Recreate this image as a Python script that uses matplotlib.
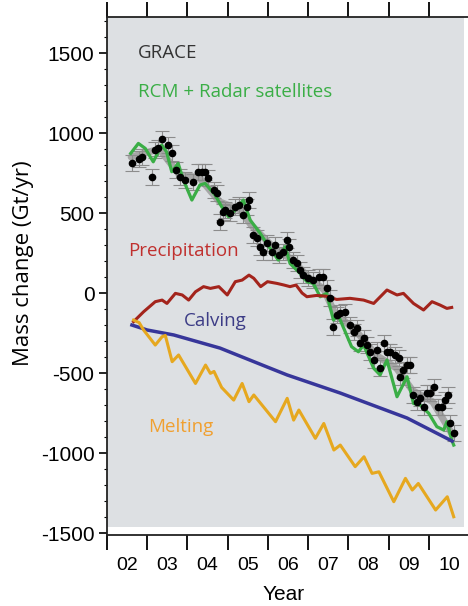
import matplotlib
matplotlib.use("Agg")
import matplotlib.pyplot as plt
from matplotlib.patches import Rectangle
import numpy as np

# ---------------- data ----------------
grace_t = [2002.61, 2002.80, 2002.86, 2003.11, 2003.19, 2003.28, 2003.36, 2003.52, 2003.61,
           2003.72, 2003.82, 2003.94, 2004.15, 2004.27, 2004.36, 2004.44, 2004.52, 2004.65,
           2004.73, 2004.81, 2004.88, 2004.94, 2005.06, 2005.18, 2005.27, 2005.39, 2005.47,
           2005.54, 2005.64, 2005.72, 2005.81, 2005.89, 2005.97, 2006.10, 2006.18, 2006.27,
           2006.37, 2006.47, 2006.53, 2006.63, 2006.72, 2006.80, 2006.88, 2007.00, 2007.13,
           2007.26, 2007.38, 2007.46, 2007.55, 2007.63, 2007.71, 2007.80, 2007.92, 2008.04,
           2008.13, 2008.21, 2008.30, 2008.38, 2008.46, 2008.55, 2008.63, 2008.71, 2008.79,
           2008.88, 2008.96, 2009.04, 2009.17, 2009.25, 2009.29, 2009.37, 2009.46, 2009.54,
           2009.62, 2009.71, 2009.79, 2009.87, 2009.96, 2010.04, 2010.12, 2010.24, 2010.32,
           2010.41, 2010.49, 2010.54, 2010.62]
grace_v = [810, 835, 852, 727, 894, 904, 960, 925, 873,
           769, 723, 706, 696, 758, 758, 758, 717, 644,
           623, 446, 508, 519, 498, 540, 550, 488, 540,
           581, 362, 342, 290, 258, 310, 258, 300, 237,
           258, 331, 290, 206, 185, 144, 112, 92, 81,
           102, 102, 29, -33, -210, -137, -127, -117, -200,
           -242, -221, -315, -283, -325, -367, -419, -356, -471,
           -315, -367, -367, -387, -408, -523, -481, -450, -450,
           -637, -679, -658, -710, -627, -627, -585, -710, -710,
           -669, -637, -815, -877]
grace_err = 50

trend_t = [2002.6, 2003.3, 2003.8, 2004.3, 2004.8, 2005.3, 2005.6, 2006.2, 2006.6,
           2007.0, 2007.4, 2007.65, 2008.2, 2008.7, 2009.2, 2009.6, 2010.1, 2010.6]
trend_v = [850, 900, 740, 720, 570, 520, 420, 270, 210,
           100, 20, -120, -240, -390, -470, -610, -680, -890]

rcm_t = [2002.59, 2002.78, 2002.95, 2003.15, 2003.36, 2003.48, 2003.61, 2003.77, 2003.90,
         2004.11, 2004.31, 2004.44, 2004.69, 2004.85, 2005.02, 2005.18, 2005.39, 2005.56,
         2005.81, 2005.97, 2006.14, 2006.26, 2006.43, 2006.55, 2006.80, 2006.97, 2007.13,
         2007.30, 2007.46, 2007.63, 2007.75, 2008.08, 2008.25, 2008.38, 2008.63, 2008.79,
         2008.96, 2009.21, 2009.46, 2009.62, 2009.79, 2010.00, 2010.20, 2010.37, 2010.45,
         2010.57, 2010.62]
rcm_v = [873, 935, 904, 820, 925, 883, 758, 810, 706,
         581, 675, 685, 612, 540, 477, 518, 581, 456,
         373, 310, 248, 206, 290, 185, 123, 71, 60,
         -23, -2, -169, -140, -335, -367, -325, -470, -512,
         -419, -648, -523, -690, -700, -752, -835, -856, -804,
         -919, -950]

precip_t = [2002.66, 2002.91, 2003.20, 2003.37, 2003.49, 2003.70, 2003.87, 2004.03, 2004.20,
            2004.40, 2004.57, 2004.78, 2004.99, 2005.19, 2005.36, 2005.53, 2005.65, 2005.82,
            2005.99, 2006.23, 2006.40, 2006.55, 2006.70, 2006.85, 2006.97, 2007.21, 2007.45,
            2007.71, 2008.04, 2008.38, 2008.63, 2008.96, 2009.21, 2009.37, 2009.62, 2009.87,
            2010.08, 2010.28, 2010.45, 2010.57]
precip_v = [-179, -117, -54, -44, -65, -2, -12, -44, 8,
            40, 29, 40, -12, 71, 81, 112, 92, 40,
            71, 60, 50, 40, 50, 0, -23, -15, -20,
            -40, -33, -44, -65, 19, -12, -2, -65, -106,
            -54, -75, -96, -90]

calving_t = [2002.62, 2003.00, 2003.66, 2004.81, 2005.98, 2006.48, 2007.80, 2009.46, 2010.58]
calving_v = [-200, -231, -262, -344, -462, -512, -625, -781, -925]

melt_t = [2002.66, 2002.80, 2002.91, 2003.20, 2003.37, 2003.45, 2003.62, 2003.78, 2004.20,
          2004.45, 2004.57, 2004.66, 2004.85, 2005.15, 2005.36, 2005.53, 2005.65, 2006.19,
          2006.48, 2006.64, 2006.77, 2007.18, 2007.39, 2007.64, 2007.80, 2008.17, 2008.39,
          2008.59, 2008.76, 2009.13, 2009.42, 2009.59, 2009.74, 2010.17, 2010.46, 2010.62]
melt_v = [-169, -185, -231, -325, -273, -265, -429, -387, -565,
          -450, -502, -490, -590, -669, -565, -679, -637, -804,
          -658, -794, -731, -908, -815, -981, -950, -1085, -1023,
          -1127, -1117, -1304, -1158, -1231, -1190, -1356, -1273, -1398]

year_ticks = list(range(2002, 2011))
year_labels = ["02", "03", "04", "05", "06", "07", "08", "09", "10"]
y_ticks = [-1500, -1000, -500, 0, 500, 1000, 1500]

# ---------------- figure ----------------
fig = plt.figure(figsize=(4.68, 6.06), dpi=100)
ax = fig.add_axes([107 / 468, 1 - 535 / 606, 362 / 468, (535 - 17) / 606])
ax.set_xlim(2002, 2011)
ax.set_ylim(-1512, 1725)

ax.add_patch(Rectangle((0.0, 0.015), 0.985, 0.985, transform=ax.transAxes,
                       facecolor="#dde0e3", edgecolor="none", zorder=0))

ax.plot(trend_t, trend_v, color="#a6a6a6", lw=5, solid_capstyle="round", zorder=2)
ax.errorbar(grace_t, grace_v, yerr=grace_err, fmt="none", ecolor="#8c8c8c",
            elinewidth=0.8, capsize=5, capthick=0.8, zorder=3)
ax.plot(rcm_t, rcm_v, color="#3aae46", lw=2.3, zorder=4)
ax.plot(grace_t, grace_v, "o", color="black", ms=4.5, zorder=5)
ax.plot(precip_t, precip_v, color="#a3241c", lw=2.2, zorder=4)
ax.plot(calving_t, calving_v, color="#37369a", lw=2.5, zorder=4)
ax.plot(melt_t, melt_v, color="#e6a81f", lw=2.2, zorder=4)

tf = ["Open Sans", "DejaVu Sans"]
fs = 13.5
ax.text(2002.77, 1500, "GRACE", color="#333333", fontsize=fs, family=tf, va="center")
ax.text(2002.77, 1255, "RCM + Radar satellites", color="#3aae46", fontsize=fs, family=tf, va="center")
ax.text(2002.52, 265, "Precipitation", color="#c0302e", fontsize=fs, family=tf, va="center")
ax.text(2003.90, -175, "Calving", color="#3c3c86", fontsize=fs, family=tf, va="center")
ax.text(2003.02, -838, "Melting", color="#f0a030", fontsize=fs, family=tf, va="center")

# ticks
ax.set_xticks(year_ticks)
ax.set_xticklabels([])
ax.set_xticks([y + 0.5 for y in year_ticks], minor=True)
ax.set_xticklabels(year_labels, minor=True, fontsize=14, family="Liberation Sans")
ax.tick_params(axis="x", which="major", direction="out", length=11, width=1.3, top=True)
ax.tick_params(axis="x", which="minor", length=0, pad=16)

ax.set_yticks(y_ticks)
ax.set_yticklabels([str(v) for v in y_ticks], fontsize=15, family="Liberation Sans")
ax.set_yticks(np.arange(-1500, 1701, 100), minor=True)
ax.tick_params(axis="y", which="major", direction="out", length=6, width=1.2, pad=3)
ax.tick_params(axis="y", which="minor", direction="out", length=2.5, width=0.8)

for s in ["left", "bottom", "top"]:
    ax.spines[s].set_linewidth(1.3)
    ax.spines[s].set_color("#222222")
ax.spines["right"].set_visible(False)

fig.text(24 / 468, 1 - 263 / 606, "Mass change (Gt/yr)", rotation=90, fontsize=16,
         family=tf, ha="center", va="center")
fig.text(284 / 468, 1 - 595 / 606, "Year", fontsize=15, family="Liberation Sans",
         ha="center", va="center")

fig.savefig("out.png", dpi=100)
